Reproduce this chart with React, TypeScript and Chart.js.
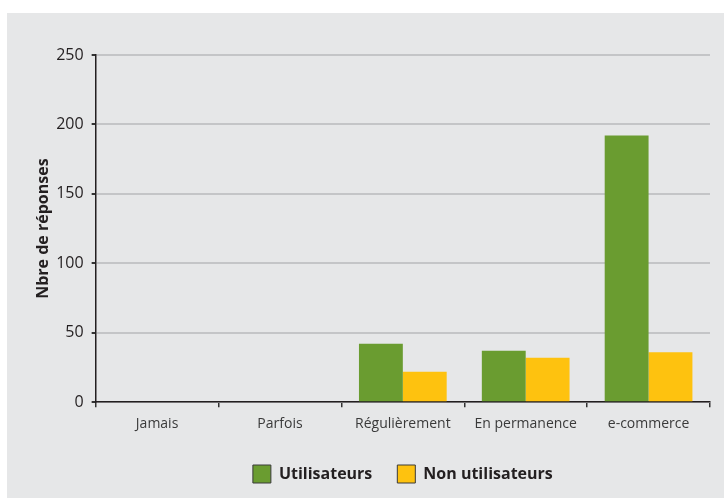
import React, { useEffect, useRef } from "react";
import { Chart, registerables } from "chart.js";

Chart.register(...registerables);

const categories = ["Jamais", "Parfois", "Régulièrement", "En permanence", "e-commerce"];
const utilisateurs = [0, 0, 42, 37, 192];
const nonUtilisateurs = [0, 0, 22, 32, 36];
const yTicks = [0, 50, 100, 150, 200, 250];

const FONT = "'Open Sans', 'Noto Sans', sans-serif";

export default function App() {
  const ref = useRef<HTMLCanvasElement>(null);
  useEffect(() => {
    if (!ref.current) return;
    const chart = new Chart(ref.current, {
      type: "bar",
      data: {
        labels: categories,
        datasets: [
          { label: "Utilisateurs", data: utilisateurs, backgroundColor: "#6a9c30", borderWidth: 0 },
          { label: "Non utilisateurs", data: nonUtilisateurs, backgroundColor: "#fec20f", borderWidth: 0 },
        ],
      },
      options: {
        animation: false,
        responsive: false,
        maintainAspectRatio: false,
        layout: { padding: { left: 27, right: 14, top: 42, bottom: 5 } },
        datasets: { bar: { categoryPercentage: 0.714, barPercentage: 1 } },
        plugins: {
          tooltip: { enabled: false },
          legend: {
            position: "bottom",
            fullSize: false,
            labels: {
              boxWidth: 18,
              boxHeight: 18,
              padding: 25,
              color: "#231f20",
              font: { family: FONT, size: 16, weight: "bold" },
              generateLabels: (c: any) => {
                const items = Chart.defaults.plugins.legend.labels.generateLabels(c);
                items.forEach((it: any) => {
                  it.strokeStyle = "#3a3a3a";
                  it.lineWidth = 1;
                });
                return items;
              },
            },
          },
        },
        scales: {
          x: {
            grid: {
              display: true,
              drawOnChartArea: false,
              offset: true,
              tickColor: "#333333",
              tickLength: 5,
              lineWidth: 1.5,
            },
            border: { color: "#231f20", width: 1.5 },
            ticks: { color: "#3a3a3a", font: { family: FONT, size: 14 }, padding: 8 },
          },
          y: {
            min: 0,
            max: 250,
            afterBuildTicks: (axis: any) => {
              axis.ticks = yTicks.map((v) => ({ value: v }));
            },
            grid: {
              color: "#c4c5c7",
              lineWidth: 2,
              tickColor: "#333333",
              tickLength: 4,
            },
            border: { color: "#231f20", width: 1.5 },
            ticks: { color: "#231f20", font: { family: FONT, size: 16 }, padding: 8 },
            title: {
              display: true,
              text: "Nbre de réponses",
              color: "#231f20",
              font: { family: FONT, size: 16, weight: "bold" },
              padding: { top: 0, bottom: -5 },
            },
          },
        },
      },
    });
    return () => chart.destroy();
  }, []);
  return (
    <div
      style={{
        position: "absolute",
        left: 7,
        top: 13,
        width: 717,
        height: 485,
        background: "#e6e7e8",
      }}
    >
      <canvas ref={ref} width={717} height={485} style={{ display: "block" }} />
    </div>
  );
}
